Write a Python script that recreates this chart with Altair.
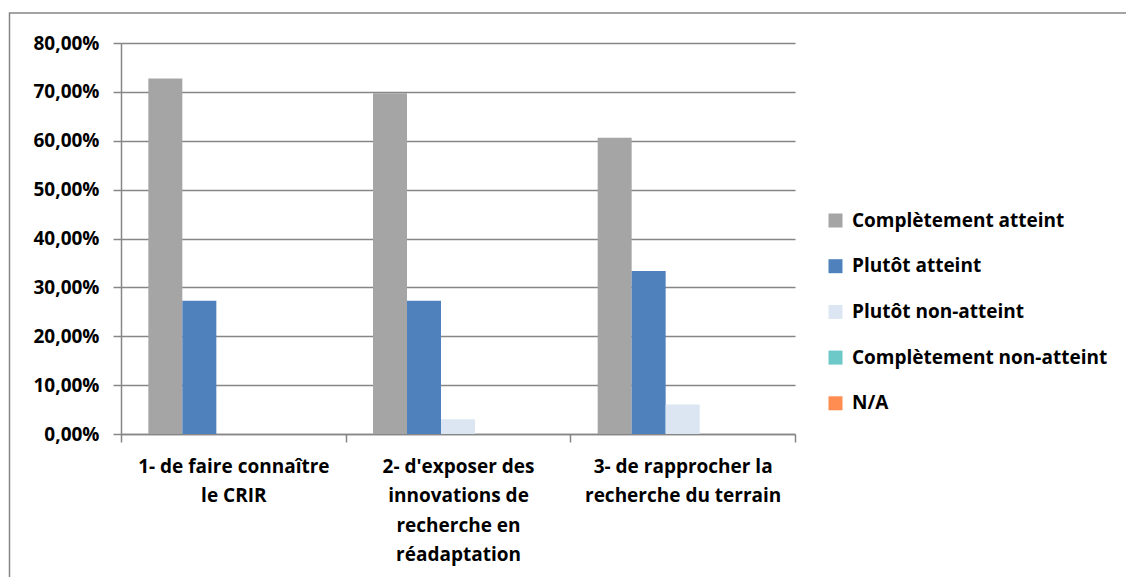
import altair as alt
import pandas as pd

categories = [
    "1- de faire connaître|le CRIR",
    "2- d'exposer des|innovations de|recherche en|réadaptation",
    "3- de rapprocher la|recherche du terrain",
]
series = ["Complètement atteint", "Plutôt atteint", "Plutôt non-atteint",
          "Complètement non-atteint", "N/A"]
colors = ["#A5A5A5", "#4F81BD", "#DCE6F2", "#6DC8C8", "#FF8C50"]

completement_atteint = [0.7273, 0.6970, 0.6061]
plutot_atteint = [0.2727, 0.2727, 0.3333]
plutot_non_atteint = [0.0, 0.0303, 0.0606]
completement_non_atteint = [0.0, 0.0, 0.0]
na = [0.0, 0.0, 0.0]

y_ticks = [0.0, 0.1, 0.2, 0.3, 0.4, 0.5, 0.6, 0.7, 0.8]

series_values = [completement_atteint, plutot_atteint, plutot_non_atteint,
                 completement_non_atteint, na]
rows = []
for s, vals in zip(series, series_values):
    for c, v in zip(categories, vals):
        rows.append({"cat": c, "serie": s, "val": v})
df = pd.DataFrame(rows)

FONT = "Open Sans"
GRID = "#868686"

bars = alt.Chart(df).mark_bar().encode(
    x=alt.X("cat:N", sort=categories,
            scale=alt.Scale(paddingInner=0, paddingOuter=0),
            axis=alt.Axis(title=None, labelAngle=0, tickBand="extent",
                          labelExpr="split(datum.label, '|')",
                          labelLineHeight=29.5, labelPadding=15,
                          labelLimit=300,
                          tickSize=8, tickColor=GRID, tickWidth=1.5,
                          domainColor=GRID, domainWidth=1.5,
                          labelBaseline="top")),
    xOffset=alt.XOffset("serie:N", sort=series,
                        scale=alt.Scale(paddingInner=0, paddingOuter=0.804)),
    y=alt.Y("val:Q",
            scale=alt.Scale(domain=[0, 0.8], nice=False),
            axis=alt.Axis(title=None, values=y_ticks,
                          labelExpr="replace(format(datum.value, '.2%'), '.', ',')",
                          tickSize=8, tickColor=GRID, tickWidth=1.5,
                          domainColor=GRID, domainWidth=1.5,
                          gridColor=GRID, gridWidth=1.5, labelPadding=14)),
    color=alt.Color("serie:N", sort=series,
                    scale=alt.Scale(domain=series, range=colors),
                    legend=alt.Legend(title=None, orient="none",
                                      legendX=705, legendY=168,
                                      symbolType="square", symbolSize=196,
                                      symbolStrokeWidth=0,
                                      labelFontSize=19, labelFont=FONT,
                                      labelFontWeight="bold", labelColor="black",
                                      rowPadding=25.7, labelOffset=7,
                                      labelLimit=400)),
)

border = alt.Chart(alt.Data(values=[{"a": 1}])).mark_rect(
    fill=None, stroke=GRID, strokeWidth=1.5
).encode(
    x=alt.value(-111.5), x2=alt.value(1030),
    y=alt.value(-30), y2=alt.value(600),
)

chart = alt.layer(border, bars).properties(
    width=674, height=391,
    autosize=alt.AutoSizeParams(type="none"),
    padding={"left": 113, "top": 35, "right": 331, "bottom": 150},
).configure_view(stroke=None).configure_axis(
    labelFont=FONT, labelFontSize=19, labelFontWeight="bold", labelColor="black",
)

chart.save("out.html", embed_options={"renderer": "svg", "actions": False})
